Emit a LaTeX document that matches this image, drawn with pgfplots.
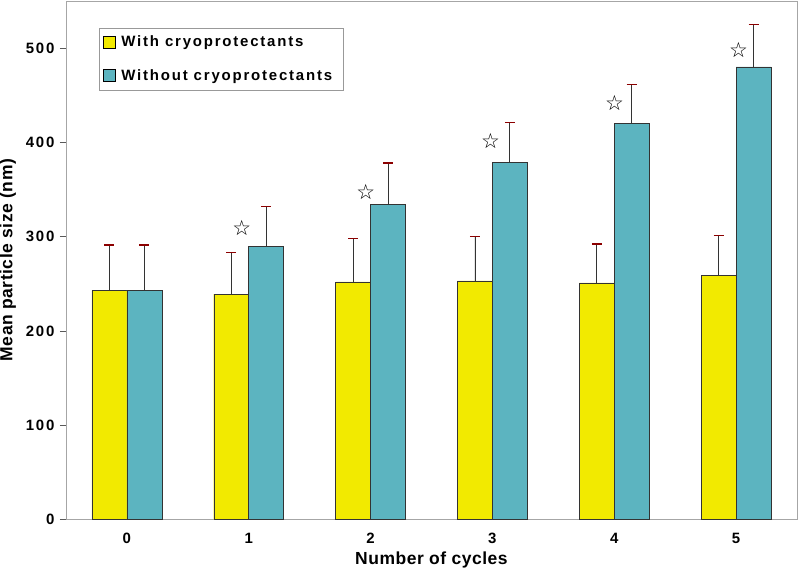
\documentclass[border=0pt]{standalone}
\usepackage{pgfplots}
\pgfplotsset{compat=1.18}
\usepackage{fontspec}
\setmainfont{Liberation Sans}[LetterSpace=12]
\newfontfamily\labfont{Liberation Sans}[LetterSpace=3]
\newfontfamily\symb{DejaVu Sans}

\definecolor{barY}{RGB}{242,234,0}
\definecolor{barC}{RGB}{92,180,192}

\pgfplotstableread{
x   y     e
0   243   48
1   239   44
2   252   46
3   253   47
4   251   41
5   259   42
}\withcryo

\pgfplotstableread{
x   y     e
0   243   48
1   290   42
2   334   44
3   379   42
4   420   41.5
5   480   45
}\withoutcryo

\begin{document}
\begin{tikzpicture}
\begin{axis}[
    name=ax,
    scale only axis,
    width=732pt, height=519pt,
    ybar,
    bar width=35pt,
    xmin=-0.5, xmax=5.5,
    ymin=0, ymax=550,
    xtick={0,...,5},
    ytick={0,100,...,500},
    ytick pos=left,
    x tick style={draw=none},
    y tick style={gray!70!black, thin},
    tick align=outside,
    major tick length=6pt,
    axis line style={gray!70},
    ticklabel style={font=\fontsize{15}{17}\selectfont\bfseries},
    yticklabel style={xshift=-2pt},
    xticklabel style={yshift=-4pt},
    /pgf/number format/assume math mode=true,
    xlabel={Number of cycles},
    ylabel={Mean particle size (nm)},
    label style={font=\fontsize{17.5}{19}\selectfont\labfont\bfseries},
    xlabel style={yshift=-1pt},
    ylabel style={yshift=3pt},
    legend style={at={(0.045,0.948)}, anchor=north west,
        draw=gray!80, font=\fontsize{15}{17}\selectfont\bfseries,
        row sep=17pt, inner xsep=4pt, inner ysep=6pt},
    legend cell align=left,
    legend image code/.code={\draw[#1, draw=black] (0pt,-6pt) rectangle (12pt,6pt); \path (16pt,0pt);},
    error bars/y dir=plus,
    error bars/y explicit,
    error bars/error mark=|,
    error bars/error bar style={gray!40!black, line width=0.8pt},
    error bars/error mark options={line width=1.6pt, mark size=5pt, red!55!black},
]
\addplot[fill=barY, draw=black!80, bar shift=-17.5pt]
    table[x=x, y=y, y error=e] {\withcryo};
\addlegendentry{With cryoprotectants}
\addplot[fill=barC, draw=black!80, bar shift=17.5pt]
    table[x=x, y=y, y error=e] {\withoutcryo};
\addlegendentry{Without cryoprotectants\hspace*{5pt}}
\addplot[only marks, mark=text, text mark={\fontsize{21}{21}\selectfont\symb\bfseries ☆}, black!85, forget plot]
    coordinates {(0.943,309) (1.961,347) (2.984,402) (4.002,442) (5.02,498)};
\end{axis}
\pgfresetboundingbox
\path ([xshift=-66pt,yshift=-49pt]ax.south west) rectangle ([xshift=2pt,yshift=1pt]ax.north east);
\end{tikzpicture}
\end{document}
